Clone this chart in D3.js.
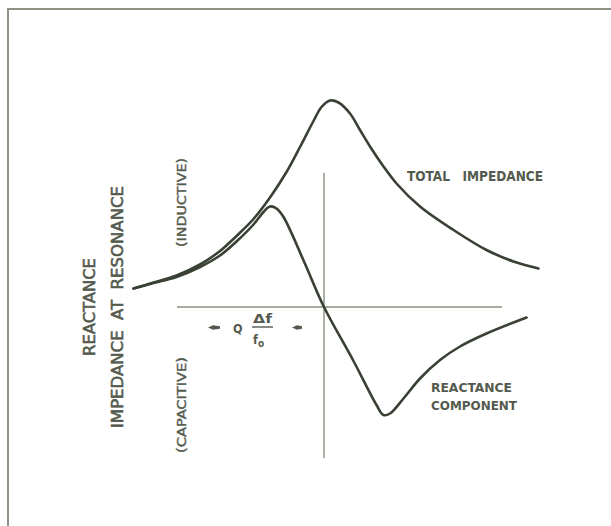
<!DOCTYPE html>
<html>
<head>
<meta charset="utf-8">
<script src="https://cdn.jsdelivr.net/npm/d3@7"></script>
<style>
  html, body { margin: 0; padding: 0; background: #ffffff; }
  svg { display: block; }
  text { font-family: "DejaVu Sans Condensed", "Liberation Sans Narrow", "DejaVu Sans", sans-serif; fill: #545a4e; }
</style>
</head>
<body>
<svg id="chart" width="611" height="526"></svg>
<script>
// Normalised frequency deviation (Q·Δf/f0 units) and relative impedance values
const totalX = [-3.81, -3.41, -2.95, -2.48, -2.08, -1.75, -1.41, -1.08, -0.75, -0.48, -0.21, -0.05, 0.12, 0.29, 0.52, 0.72, 0.92, 1.19, 1.45, 1.92, 2.59, 3.25, 3.79, 4.29];
const totalY = [0.37, 0.49, 0.63, 0.85, 1.12, 1.42, 1.76, 2.19, 2.70, 3.20, 3.72, 4.00, 4.13, 4.09, 3.87, 3.54, 3.21, 2.81, 2.47, 2.01, 1.54, 1.14, 0.91, 0.77];

const reactX = [-3.81, -3.41, -2.95, -2.48, -2.08, -1.75, -1.41, -1.21, -1.08, -0.95, -0.81, -0.40, 0.0, 0.59, 1.05, 1.19, 1.32, 1.59, 1.92, 2.32, 2.72, 3.25, 4.05];
const reactY = [0.37, 0.48, 0.60, 0.80, 1.03, 1.31, 1.65, 1.90, 2.01, 1.97, 1.80, 0.91, 0.0, -1.08, -1.96, -2.16, -2.13, -1.83, -1.43, -1.06, -0.79, -0.53, -0.21];

// Extent of the drawn axes, in data units
const hAxisExtent = [-2.94, 3.56];
const vAxisExtent = [-3.02, 2.68];

const curveLabels = ["TOTAL   IMPEDANCE", "REACTANCE", "COMPONENT"];
const sideLabels = ["REACTANCE", "IMPEDANCE  AT  RESONANCE"];
const signLabels = ["(INDUCTIVE)", "(CAPACITIVE)"];

const svg = d3.select("#chart");

const x = d3.scaleLinear().domain([0, 1]).range([324, 374]);
const y = d3.scaleLinear().domain([0, 1]).range([307, 257]);

// Frame (top and left edges)
svg.append("line").attr("x1", 8).attr("y1", 9).attr("x2", 611).attr("y2", 9)
  .attr("stroke", "#8c9284").attr("stroke-width", 2);
svg.append("line").attr("x1", 8).attr("y1", 8).attr("x2", 8).attr("y2", 526)
  .attr("stroke", "#8c9284").attr("stroke-width", 2);

// Axes
const axisCol = "#8a9082";
svg.append("line")
  .attr("x1", x(hAxisExtent[0])).attr("x2", x(hAxisExtent[1]))
  .attr("y1", y(0)).attr("y2", y(0))
  .attr("stroke", axisCol).attr("stroke-width", 1.4);
svg.append("line")
  .attr("x1", x(0)).attr("x2", x(0))
  .attr("y1", y(vAxisExtent[1])).attr("y2", y(vAxisExtent[0]))
  .attr("stroke", axisCol).attr("stroke-width", 1.4);

const line = d3.line()
  .x(d => x(d[0])).y(d => y(d[1]))
  .curve(d3.curveCatmullRom.alpha(0.5));

const curveCol = "#394034";
svg.append("path")
  .datum(d3.zip(totalX, totalY))
  .attr("d", line)
  .attr("fill", "none").attr("stroke", curveCol)
  .attr("stroke-width", 2.6).attr("stroke-linecap", "round").attr("stroke-linejoin", "round");
svg.append("path")
  .datum(d3.zip(reactX, reactY))
  .attr("d", line)
  .attr("fill", "none").attr("stroke", curveCol)
  .attr("stroke-width", 2.6).attr("stroke-linecap", "round").attr("stroke-linejoin", "round");

// Curve labels
svg.append("text").attr("x", 407).attr("y", 181).style("font-size", "13.5px").style("font-weight", "bold")
  .attr("textLength", 136).attr("lengthAdjust", "spacingAndGlyphs")
  .style("white-space", "pre").text(curveLabels[0]);
svg.append("text").attr("x", 431).attr("y", 392).style("font-size", "13px").style("font-weight", "bold")
  .attr("textLength", 81).attr("lengthAdjust", "spacingAndGlyphs").text(curveLabels[1]);
svg.append("text").attr("x", 431).attr("y", 410).style("font-size", "13px").style("font-weight", "bold")
  .attr("textLength", 86).attr("lengthAdjust", "spacingAndGlyphs").text(curveLabels[2]);

// Side (rotated) labels
const medium = sel => sel.style("font-weight", "normal").style("stroke", "#545a4e").style("stroke-width", "0.55px");
svg.append("text").attr("transform", "translate(95,307) rotate(-90)")
  .attr("text-anchor", "middle").style("font-size", "16.5px").call(medium)
  .attr("textLength", 98).attr("lengthAdjust", "spacingAndGlyphs").text(sideLabels[0]);
svg.append("text").attr("transform", "translate(123,307) rotate(-90)")
  .attr("text-anchor", "middle").style("font-size", "16.5px").call(medium)
  .style("white-space", "pre")
  .attr("textLength", 242).attr("lengthAdjust", "spacingAndGlyphs").text(sideLabels[1]);

svg.append("text").attr("transform", "translate(186,202.5) rotate(-90)")
  .attr("text-anchor", "middle").style("font-size", "13px").call(medium).style("stroke-width", "0.4px")
  .attr("textLength", 89).attr("lengthAdjust", "spacingAndGlyphs").text(signLabels[0]);
svg.append("text").attr("transform", "translate(186,405) rotate(-90)")
  .attr("text-anchor", "middle").style("font-size", "13px").call(medium).style("stroke-width", "0.4px")
  .attr("textLength", 96).attr("lengthAdjust", "spacingAndGlyphs").text(signLabels[1]);

// Q Δf / f0 annotation with arrows
const g = svg.append("g");
g.append("path").attr("d", "M208,327.5 L213,325.3 L220,326.2 L220,328.8 L213,329.7 Z").attr("fill", "#545a4e");
g.append("path").attr("d", "M292,327.5 L297,325.3 L302,326.2 L302,328.8 L297,329.7 Z").attr("fill", "#545a4e");
g.append("text").attr("x", 233).attr("y", 332.5).style("font-size", "12.5px").style("font-weight", "bold").text("Q");
g.append("text").attr("x", 253).attr("y", 323).style("font-size", "12.5px").style("font-weight", "bold")
  .attr("textLength", 19).attr("lengthAdjust", "spacingAndGlyphs").text("Δf");
g.append("line").attr("x1", 252).attr("x2", 273).attr("y1", 327).attr("y2", 327)
  .attr("stroke", "#545a4e").attr("stroke-width", 1.4);
const f0 = g.append("text").attr("x", 253).attr("y", 344).style("font-size", "12.5px").style("font-weight", "bold");
f0.append("tspan").text("f");
f0.append("tspan").attr("dy", 3).style("font-size", "10px").text("o");
</script>
</body>
</html>
